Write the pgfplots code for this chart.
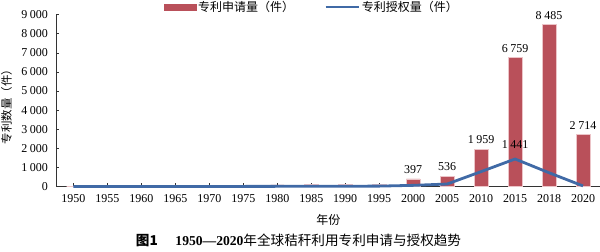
\documentclass[border=0pt]{standalone}
\usepackage{pgfplots}
\pgfplotsset{compat=1.18}
\usepackage{fontspec}
\setmainfont{Liberation Serif}
\newfontfamily\cjk{Noto Sans CJK SC}
\definecolor{barred}{RGB}{185,80,90}
\definecolor{barborder}{RGB}{236,196,200}
\definecolor{lineblue}{RGB}{64,106,166}
\newcommand{\fs}{\fontsize{12bp}{14bp}\selectfont}
\begin{document}
\begin{tikzpicture}
\path[use as bounding box] (0,0) rectangle (600bp,252bp);
\begin{axis}[
  at={(56.5bp,65.5bp)}, anchor=south west,
  scale only axis, width=543.5bp, height=171.8bp,
  xmin=-0.5, xmax=15.5, ymin=0, ymax=9000,
  axis lines=left, axis line style={-, black!80, line width=0.8bp},
  tick align=inside, major tick length=3bp,
  tick style={black!80, line width=0.6bp},
  xtick={0,...,15},
  xticklabels={1950,1955,1960,1965,1970,1975,1980,1985,1990,1995,2000,2005,2010,2015,2018,2020},
  ytick={0,1000,...,9000},
  yticklabels={0,1\hspace{0.22em}000,2\hspace{0.22em}000,3\hspace{0.22em}000,4\hspace{0.22em}000,5\hspace{0.22em}000,6\hspace{0.22em}000,7\hspace{0.22em}000,8\hspace{0.22em}000,9\hspace{0.22em}000},
  tick label style={font=\fs},
  xticklabel style={yshift=-5bp},
  yticklabel style={xshift=-5bp},
  xlabel={\cjk 年份}, xlabel style={font=\fs, at={(axis description cs:0.5,-0.195)}, anchor=center},
  legend columns=2,
  legend style={draw=none, fill=none, font=\fs\cjk, at={(axis description cs:0.4697,1.0448)}, anchor=center,
    nodes={inner sep=2bp},
    /tikz/every even column/.append style={column sep=28bp}},
  clip=false,
]
\addplot[ybar, bar width=13.5bp, fill=barred, draw=barborder, line width=0.5bp,
  nodes near coords, point meta=explicit symbolic,
  nodes near coords style={font=\fs, text=black, inner sep=2bp, yshift=3bp},
  legend image code/.code={\fill[barred] (0bp,-3bp) rectangle (32bp,3bp);}]
coordinates {
(0,0)[] (1,0)[] (2,0)[] (3,0)[] (4,0)[] (5,0)[] (6,80)[] (7,120)[] (8,110)[] (9,120)[]
(10,397)[397] (11,536)[536] (12,1959)[1\hspace{0.22em}959] (13,6759)[6\hspace{0.22em}759]
(14,8485)[8\hspace{0.22em}485] (15,2714)[2\hspace{0.22em}714]
};
\addlegendentry{专利申请量（件）}
\addplot[lineblue, line width=2.8bp, mark=none,
  nodes near coords, point meta=explicit symbolic,
  nodes near coords style={font=\fs, text=black, inner sep=2bp, yshift=7bp},
  legend image code/.code={\draw[lineblue, line width=2.8bp] (0bp,0bp) -- (33bp,0bp);}]
coordinates {
(0,5)[] (1,5)[] (2,5)[] (3,5)[] (4,5)[] (5,5)[] (6,8)[] (7,10)[] (8,15)[] (9,20)[]
(10,60)[] (11,130)[] (12,780)[] (13,1441)[1\hspace{0.22em}441] (14,720)[] (15,30)[]
};
\addlegendentry{专利授权量（件）}
\end{axis}
\node[rotate=90, font=\fontsize{11.5bp}{13bp}\selectfont\cjk, anchor=center, inner sep=0pt] at (6.5bp,148bp) {专利数量（件）};
\node[font=\fontsize{13.6bp}{15bp}\selectfont, anchor=center] at (298.5bp,11.5bp)
  {{\cjk\bfseries 图1}\hspace{1.3em}\textbf{1950—2020}{\cjk 年全球秸秆利用专利申请与授权趋势}};
\end{tikzpicture}
\end{document}
